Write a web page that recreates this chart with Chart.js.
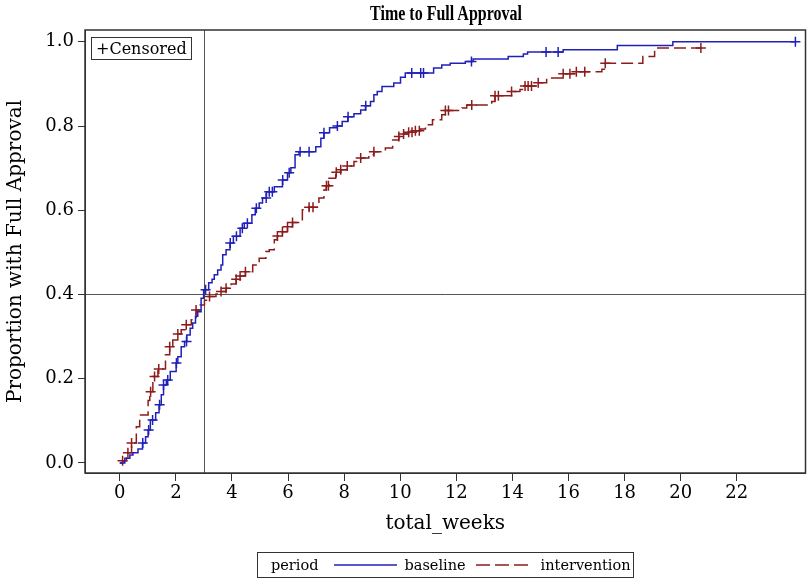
<!DOCTYPE html>
<html>
<head>
<meta charset="utf-8">
<title>Time to Full Approval</title>
<script src="https://cdn.jsdelivr.net/npm/chart.js@4/dist/chart.umd.min.js"></script>
<style>
    html, body { margin: 0; padding: 0; background: #fff; }
    #wrap { position: relative; width: 812px; height: 581px; }
    #title {
        position: absolute; left: 246px; top: 1px; width: 400px; text-align: center;
        font: bold 20px "Liberation Serif"; line-height: 24px; color: #000;
        transform: scaleX(0.8);
    }
    #censorBox {
        position: absolute; left: 91px; top: 37px; height: 21px;
        padding: 0 4px; border: 1px solid #333;
        font: 16px "DejaVu Serif"; line-height: 21px; color: #000;
    }
    #legend {
        position: absolute; left: 257px; top: 552px; height: 24px;
        padding: 0 2px 0 13px; border: 1px solid #333;
        font: 14.5px "DejaVu Serif"; color: #000;
        display: flex; align-items: center; white-space: nowrap;
    }
</style>
</head>
<body>
<div id="wrap">
    <canvas id="kmChart" width="812" height="581"></canvas>
    <div id="title">Time to Full Approval</div>
    <div id="censorBox">+Censored</div>
    <div id="legend">
        <span>period</span>
        <svg width="63" height="4" style="margin: 0 7px 0 16px"><line x1="0" y1="2" x2="63" y2="2" stroke="#2020b8" stroke-width="1.5"/></svg>
        <span>baseline</span>
        <svg width="52" height="4" style="margin: 0 13px 0 10px"><line x1="0" y1="2" x2="52" y2="2" stroke="#8c1c1c" stroke-width="1.5" stroke-dasharray="14 5"/></svg>
        <span>intervention</span>
    </div>
</div>
<script>
// Kaplan-Meier step data (weeks, cumulative proportion approved)
const baselineWeeks = [0, 0.18, 0.36, 0.47, 0.65, 0.81, 0.92, 1.01, 1.09, 1.28, 1.40, 1.48, 1.56, 1.66, 1.80,
    2.01, 2.07, 2.19, 2.31, 2.39, 2.51, 2.60, 2.70, 2.78, 2.90, 2.99, 3.17, 3.29, 3.37, 3.49, 3.61, 3.67, 3.79,
    3.93, 4.05, 4.29, 4.44, 4.71, 4.83, 4.97, 5.09, 5.23, 5.51, 5.80, 5.98, 6.10, 6.25, 6.39, 6.99, 7.17, 7.28,
    7.48, 7.75, 7.93, 8.13, 8.35, 8.59, 8.76, 8.94, 9.06, 9.18, 9.35, 9.77, 10.01, 10.18, 11.19, 11.48, 11.78,
    12.32, 12.60, 13.85, 14.39, 14.54, 15.81, 17.74, 19.72];
const baselineProp = [0, 0.011, 0.019, 0.024, 0.033, 0.047, 0.062, 0.078, 0.102, 0.119, 0.138, 0.162, 0.185, 0.197, 0.217,
    0.237, 0.252, 0.276, 0.288, 0.304, 0.320, 0.332, 0.348, 0.359, 0.391, 0.411, 0.428, 0.436, 0.447, 0.458, 0.470, 0.494, 0.506,
    0.522, 0.538, 0.557, 0.569, 0.589, 0.605, 0.617, 0.629, 0.644, 0.656, 0.672, 0.689, 0.701, 0.732, 0.739, 0.751, 0.771, 0.784,
    0.796, 0.800, 0.811, 0.822, 0.829, 0.838, 0.848, 0.858, 0.874, 0.882, 0.894, 0.902, 0.916, 0.926, 0.938, 0.945, 0.949,
    0.953, 0.959, 0.965, 0.971, 0.976, 0.981, 0.991, 1.0];
const baselineCensored = [0.82, 1.03, 1.17, 1.42, 1.56, 1.71, 2.02, 2.38, 3.06, 3.94, 4.16, 4.37, 4.55, 4.87, 5.22,
    5.33, 5.44, 5.81, 6.04, 6.43, 6.75, 7.28, 7.76, 8.14, 8.77, 10.41, 10.73, 10.83, 12.54, 15.20, 15.63, 24.09];

const interventionWeeks = [0, 0.10, 0.24, 0.29, 0.42, 0.59, 0.71, 1.01, 1.07, 1.18, 1.36, 1.63, 1.78, 1.89, 2.07,
    2.19, 2.37, 2.55, 2.72, 2.87, 3.02, 3.20, 3.43, 3.61, 3.79, 3.97, 4.15, 4.29, 4.48, 4.74, 4.97, 5.21, 5.33,
    5.51, 5.62, 5.80, 5.98, 6.16, 6.51, 6.75, 7.10, 7.28, 7.36, 7.46, 7.70, 7.88, 8.11, 8.35, 8.59, 8.88, 9.06,
    9.47, 9.73, 9.95, 10.12, 10.30, 10.54, 10.72, 10.90, 11.15, 11.48, 11.61, 12.20, 12.37, 13.26, 13.38, 13.97,
    14.27, 14.45, 14.92, 15.22, 15.81, 16.28, 17.19, 17.31, 18.65, 19.07];
const interventionProp = [0, 0.005, 0.017, 0.024, 0.047, 0.086, 0.114, 0.148, 0.169, 0.205, 0.223, 0.257, 0.276, 0.292, 0.306,
    0.316, 0.328, 0.340, 0.363, 0.375, 0.386, 0.395, 0.401, 0.407, 0.415, 0.425, 0.436, 0.444, 0.454, 0.470, 0.486, 0.502, 0.506,
    0.530, 0.539, 0.549, 0.561, 0.571, 0.601, 0.607, 0.629, 0.648, 0.658, 0.676, 0.690, 0.696, 0.705, 0.716, 0.724, 0.732, 0.739,
    0.748, 0.767, 0.775, 0.781, 0.785, 0.789, 0.793, 0.803, 0.815, 0.827, 0.837, 0.843, 0.850, 0.858, 0.872, 0.882,
    0.887, 0.895, 0.903, 0.914, 0.924, 0.929, 0.935, 0.949, 0.965, 0.985];
const interventionCensored = [0.10, 0.29, 0.42, 1.10, 1.24, 1.39, 1.78, 2.07, 2.37, 2.72, 3.20, 3.61, 3.79, 4.15, 4.29,
    4.48, 5.62, 5.80, 5.98, 6.16, 6.75, 6.89, 7.37, 7.44, 7.72, 7.88, 8.11, 8.59, 9.06, 9.95, 10.12, 10.30, 10.42,
    10.54, 10.68, 11.61, 11.72, 12.55, 13.38, 13.50, 13.97, 14.45, 14.56, 14.68, 14.92, 15.81, 16.05, 16.28, 16.58,
    17.31, 20.72];

// Reference lines
const refWeek = 3;
const refProp = 0.4;

const baselineColor = '#2020b8';
const interventionColor = '#8c1c1c';
const serif = 'DejaVu Serif';

// Curve level at time t (steps up at each event time)
function levelAt(weeks, props, t) {
    let v = 0;
    for (let i = 0; i < weeks.length; i++) {
        if (weeks[i] <= t + 1e-9) v = props[i];
    }
    return v;
}

// Step points plus a tail out to the last censored time
function stepPoints(weeks, props, censored) {
    const pts = weeks.map((w, i) => ({ x: w, y: props[i] }));
    const last = Math.max(...censored);
    if (last > weeks[weeks.length - 1]) pts.push({ x: last, y: props[props.length - 1] });
    return pts;
}

function censorPoints(weeks, props, censored) {
    return censored.map(t => ({ x: t, y: levelAt(weeks, props, t) }));
}

// Plot frame and the two reference lines
const framePlugin = {
    id: 'frame',
    beforeDatasetsDraw(chart) {
        const { ctx, chartArea: a, scales: { x, y } } = chart;
        ctx.save();
        ctx.strokeStyle = '#555';
        ctx.lineWidth = 1;
        const px = Math.round(x.getPixelForValue(refWeek)) + 0.5;
        const py = Math.round(y.getPixelForValue(refProp)) + 0.5;
        ctx.beginPath();
        ctx.moveTo(px, a.top);
        ctx.lineTo(px, a.bottom);
        ctx.moveTo(a.left, py);
        ctx.lineTo(a.right, py);
        ctx.stroke();
        ctx.restore();
    },
    afterDraw(chart) {
        const { ctx, chartArea: a } = chart;
        ctx.save();
        ctx.strokeStyle = '#333';
        ctx.lineWidth = 1.5;
        ctx.strokeRect(a.left, a.top, a.right - a.left, a.bottom - a.top);
        ctx.restore();
    }
};

const ctx = document.getElementById('kmChart').getContext('2d');

new Chart(ctx, {
    type: 'scatter',
    data: {
        datasets: [
            {
                label: 'baseline',
                data: stepPoints(baselineWeeks, baselineProp, baselineCensored),
                showLine: true,
                stepped: 'before',
                borderColor: baselineColor,
                borderWidth: 1.5,
                pointRadius: 0
            },
            {
                label: 'intervention',
                data: stepPoints(interventionWeeks, interventionProp, interventionCensored),
                showLine: true,
                stepped: 'before',
                borderColor: interventionColor,
                borderWidth: 1.5,
                borderDash: [12, 5],
                pointRadius: 0
            },
            {
                label: 'baseline censored',
                data: censorPoints(baselineWeeks, baselineProp, baselineCensored),
                pointStyle: 'cross',
                pointRadius: 5,
                borderColor: baselineColor,
                borderWidth: 1.5
            },
            {
                label: 'intervention censored',
                data: censorPoints(interventionWeeks, interventionProp, interventionCensored),
                pointStyle: 'cross',
                pointRadius: 5,
                borderColor: interventionColor,
                borderWidth: 1.5
            }
        ]
    },
    options: {
        responsive: false,
        animation: false,
        layout: { padding: { left: 0, right: 4, top: 30, bottom: 41 } },
        plugins: {
            legend: { display: false },
            tooltip: { enabled: false },
            title: { display: false }
        },
        scales: {
            x: {
                type: 'linear',
                min: -1.24,
                max: 24.45,
                afterBuildTicks: s => { s.ticks = s.ticks.filter(t => t.value >= 0 && t.value <= 22); },
                afterFit: s => { s.height = 67; },
                ticks: { stepSize: 2, includeBounds: false, color: '#000', padding: 2, font: { family: serif, size: 18 } },
                grid: { drawOnChartArea: false, tickLength: 8, color: '#333' },
                border: { color: '#333' },
                title: { display: true, text: 'total_weeks', color: '#000', font: { family: serif, size: 20 }, padding: { top: 8 } }
            },
            y: {
                min: -0.024,
                max: 1.028,
                afterFit: s => { s.width = 85; },
                ticks: {
                    stepSize: 0.2, includeBounds: false, color: '#000', padding: 4,
                    font: { family: serif, size: 18 },
                    callback: v => v.toFixed(1)
                },
                grid: { drawOnChartArea: false, tickLength: 7, color: '#333' },
                border: { color: '#333' },
                title: { display: true, text: 'Proportion with Full Approval', color: '#000', font: { family: serif, size: 20 }, padding: { bottom: 2 } }
            }
        }
    },
    plugins: [framePlugin]
});
</script>
</body>
</html>
